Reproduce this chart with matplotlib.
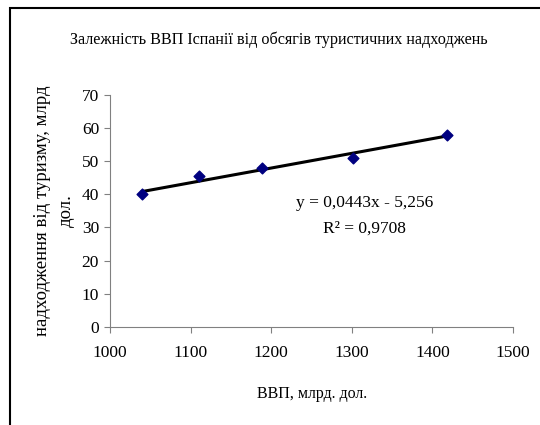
import matplotlib as mpl
import matplotlib.pyplot as plt
import numpy as np
from matplotlib.patches import Rectangle

plt.rcParams['font.family'] = ['Liberation Serif', 'DejaVu Serif']

gdp = np.array([1040, 1110, 1188, 1302, 1418])  # ВВП, млрд. дол.
tourism = np.array([40.0, 45.5, 48.0, 51.0, 58.0])  # надходження від туризму
slope = 0.0443
intercept = -5.256
r2 = 0.9708

fig = plt.figure(figsize=(5.4, 4.25), dpi=100)
ax = fig.add_axes([0.204, 0.231, 0.746, 0.546])

# chart area frame (cut off at right and bottom)
fig.patches.append(Rectangle((10/540, -0.1), 1.2, 1 - 8/425 + 0.1, transform=fig.transFigure,
                             fill=False, edgecolor='black', linewidth=1.5))

xt = np.array([gdp.min(), gdp.max()])
ax.plot(xt, slope*xt + intercept, color='black', linewidth=2.2, zorder=2)
ax.scatter(gdp, tourism, marker='D', s=30, color='#000080', zorder=3)

ax.set_xlim(1000, 1500)
ax.set_ylim(0, 70)
ax.set_xticks(np.arange(1000, 1501, 100))
ax.set_yticks(np.arange(0, 71, 10))
for s in ['top', 'right']:
    ax.spines[s].set_visible(False)
for s in ['left', 'bottom']:
    ax.spines[s].set_color('#808080')
ax.tick_params(direction='out', length=4, color='#808080', labelsize=12.5, pad=4)
ax.tick_params(axis='x', pad=9)

ax.set_xlabel('ВВП, млрд. дол.', fontsize=11.5, labelpad=18)
ax.set_ylabel('надходження від туризму, млрд\nдол.', fontsize=13.5, labelpad=5,
              linespacing=1.55)
fig.text(279/540, 1 - 40/425, 'Залежність ВВП Іспанії від обсягів туристичних надходжень',
         ha='center', va='center', fontsize=11.6)

ax.text(1316, 37.4, 'y = 0,0443x - 5,256', ha='center', va='center', fontsize=12.5)
ax.text(1316, 29.5, 'R² = 0,9708', ha='center', va='center', fontsize=12.5)

fig.savefig('out.png', dpi=100)
